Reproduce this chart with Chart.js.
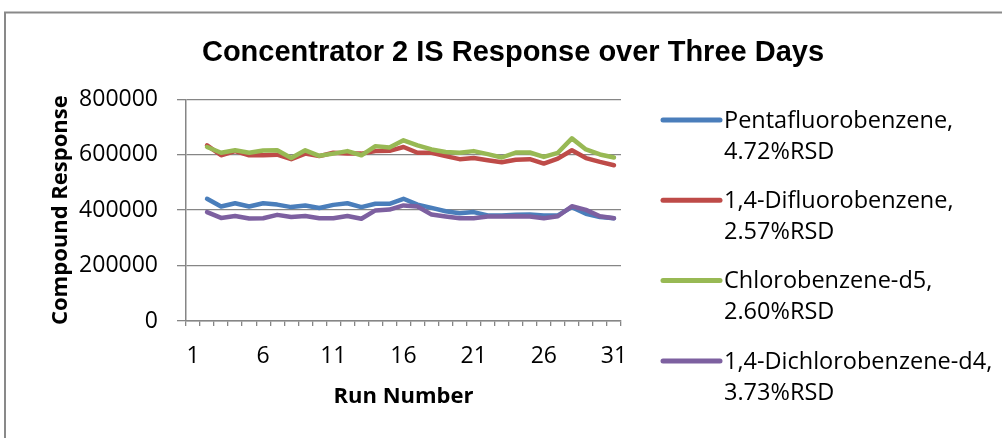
<!DOCTYPE html>
<html>
<head>
<meta charset="utf-8">
<script src="https://cdn.jsdelivr.net/npm/chart.js@4"></script>
<style>
  html, body { margin: 0; padding: 0; background: #fff; }
  #wrap { width: 1002px; height: 438px; position: relative; }
</style>
</head>
<body>
<div id="wrap"><canvas id="c" width="1002" height="438"></canvas></div>
<script>
const chartTitle = "Concentrator 2 IS Response over Three Days";
const runNumbers = Array.from({length: 31}, (_, i) => String(i + 1));
const seriesNames = ["Pentafluorobenzene,", "1,4-Difluorobenzene,", "Chlorobenzene-d5,", "1,4-Dichlorobenzene-d4,"];
const seriesRSD = ["4.72%RSD", "2.57%RSD", "2.60%RSD", "3.73%RSD"];
const seriesColors = ["#4A7EBB", "#BE4B48", "#98B954", "#7D60A0"];
const yTicks = [0, 200000, 400000, 600000, 800000];

// run 1 has no value; runs 2..31
const pentafluorobenzene = [null, 441000,413000,425000,413000,425000,420000,411000,417000,408000,419000,425000,411000,423000,423000,441000,420000,408000,396000,389000,393000,381000,381000,383000,384000,381000,381000,411000,387000,375000,371000];
const difluorobenzene = [null, 634000,598000,613000,598000,598000,600000,584000,604000,595000,607000,604000,604000,613000,614000,628000,607000,607000,595000,584000,588000,580000,573000,582000,584000,568000,586000,616000,588000,574000,562000];
const chlorobenzeneD5 = [null, 628000,607000,616000,607000,615000,616000,588000,616000,596000,604000,613000,598000,631000,626000,652000,634000,619000,610000,607000,613000,602000,590000,608000,608000,592000,607000,659000,619000,601000,590000];
const dichlorobenzeneD4 = [null, 393000,372000,379000,370000,371000,383000,375000,379000,371000,371000,379000,369000,399000,402000,417000,413000,384000,377000,371000,371000,377000,377000,378000,377000,371000,378000,414000,401000,378000,371000];

const seriesData = [pentafluorobenzene, difluorobenzene, chlorobenzeneD5, dichlorobenzeneD4];

const GRID = "#868686";
const TXT = "#000000";

const frame = {
  id: "frame",
  beforeDraw(chart) {
    const ctx = chart.ctx;
    ctx.save();
    ctx.fillStyle = "#fff";
    ctx.fillRect(0, 0, chart.width, chart.height);
    ctx.strokeStyle = "#898989";
    ctx.lineWidth = 2;
    ctx.strokeRect(5, 12.5, 1200, 600);
    ctx.restore();
  },
  afterDraw(chart) {
    const ctx = chart.ctx;
    ctx.save();
    ctx.fillStyle = TXT;
    ctx.font = "bold 29px 'Liberation Sans', Arial, sans-serif";
    ctx.textAlign = "center";
    ctx.textBaseline = "alphabetic";
    ctx.fillText(chartTitle, 513, 61);
    ctx.restore();
  }
};

const customLegend = {
  id: "customLegend",
  afterDraw(chart) {
    const ctx = chart.ctx;
    const a = chart.chartArea;
    ctx.save();
    const x0 = a.right + 42, x1 = a.right + 99, tx = a.right + 103;
    chart.data.datasets.forEach((ds, i) => {
      const y = 120 + i * 80.3;
      ctx.strokeStyle = ds.borderColor;
      ctx.lineWidth = 5;
      ctx.lineCap = "round";
      ctx.beginPath();
      ctx.moveTo(x0, y);
      ctx.lineTo(x1, y);
      ctx.stroke();
      ctx.fillStyle = TXT;
      ctx.font = "23.5px 'Open Sans'";
      ctx.textBaseline = "middle";
      ctx.textAlign = "left";
      ctx.fillText(seriesNames[i], tx, y + 1);
      ctx.fillText(seriesRSD[i], tx, y + 32);
    });
    ctx.restore();
  }
};

new Chart(document.getElementById("c"), {
  type: "line",
  data: {
    labels: runNumbers,
    datasets: seriesData.map((d, i) => ({
      label: seriesNames[i] + " " + seriesRSD[i],
      data: d,
      borderColor: seriesColors[i],
      backgroundColor: seriesColors[i],
      borderWidth: 4.5,
      pointRadius: 0,
      tension: 0,
      fill: false,
      borderJoinStyle: "round",
      borderCapStyle: "round",
      order: 3 - i
    }))
  },
  options: {
    responsive: false,
    animation: false,
    layout: { padding: { left: 0, right: 381, top: 99.3, bottom: 0 } },
    plugins: {
      legend: { display: false },
      tooltip: { enabled: false },
      title: { display: false }
    },
    scales: {
      x: {
        type: "category",
        offset: true,
        afterFit(s) { s.height = 117; },
        grid: { display: true, offset: true, drawOnChartArea: false, drawTicks: true, tickLength: 5, color: GRID, lineWidth: 1.3 },
        border: { display: true, color: GRID, width: 1.5 },
        ticks: {
          autoSkip: false, maxRotation: 0, color: TXT, padding: 17,
          font: { family: "'Open Sans'", size: 23 },
          callback(v, idx) { return idx % 5 === 0 ? runNumbers[idx] : ""; }
        },
        title: { display: true, text: "Run Number", color: TXT, font: { family: "'Open Sans'", size: 22, weight: "bold" }, padding: { top: 0, bottom: 28 } }
      },
      y: {
        min: 0, max: 800000,
        afterFit(s) { s.width = 186; },
        afterBuildTicks(s) { s.ticks = yTicks.map(v => ({ value: v })); },
        grid: { color: GRID, lineWidth: 1.3, tickLength: 9, drawTicks: true },
        border: { display: true, color: GRID, width: 1.5 },
        ticks: { color: TXT, padding: 19, font: { family: "'Open Sans'", size: 23 }, callback(v) { return String(v); } },
        title: { display: true, text: "Compound Response", color: TXT, font: { family: "'Open Sans'", size: 22, weight: "bold" }, padding: { top: 48, bottom: 0 } }
      }
    }
  },
  plugins: [frame, customLegend]
});
</script>
</body>
</html>
